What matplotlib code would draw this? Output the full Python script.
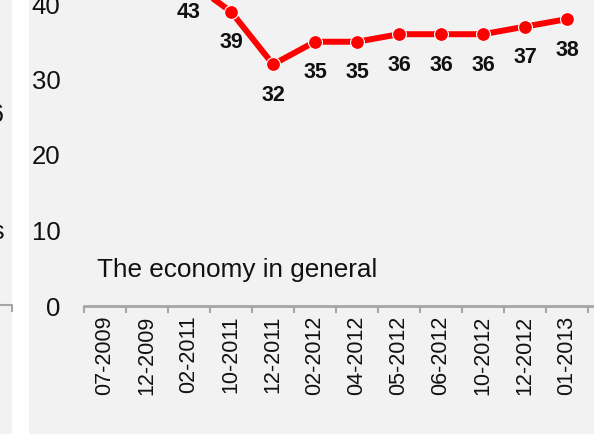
import matplotlib
matplotlib.use("Agg")
import matplotlib.pyplot as plt
from matplotlib.patches import Rectangle
from matplotlib.lines import Line2D

plt.rcParams['font.family'] = ['Liberation Sans', 'DejaVu Sans']

# data (first two points sit above the visible crop)
periods = ['07-2009', '12-2009', '02-2011', '10-2011', '12-2011', '02-2012',
           '04-2012', '05-2012', '06-2012', '10-2012', '12-2012', '01-2013']
values = [48, 47, 43, 39, 32, 35, 35, 36, 36, 36, 37, 38]
panel_title = 'The economy in general'

W, H = 594, 434
fig = plt.figure(figsize=(W / 100, H / 100), dpi=100)
fig.patch.set_facecolor('white')

# panel backgrounds (neighbouring panel on the far left, main panel)
bg = '#f2f2f2'
fig.patches.append(Rectangle((0, 0), 12 / W, 1, transform=fig.transFigure,
                             facecolor=bg, edgecolor='none', zorder=-2))
fig.patches.append(Rectangle((29 / W, 0), 1 - 29 / W, 1, transform=fig.transFigure,
                             facecolor=bg, edgecolor='none', zorder=-2))
# bits of the neighbouring panel
fig.lines.append(Line2D([0, 12 / W, 12 / W], [1 - 305 / H, 1 - 305 / H, 1 - 311 / H],
                        transform=fig.transFigure, color='#a6a6a6', lw=1.5))
fig.text(4 / W, 1 - 115 / H, '6', ha='right', va='center', fontsize=18, color='#111111')
fig.text(4 / W, 1 - 232 / H, 's', ha='right', va='center', fontsize=18, color='#111111')

# main axes: 0 at y=306px, 7.55 px per unit, x from 84px, 42px per category
ymax = 50
px_per_unit = 7.55
ax_h = ymax * px_per_unit / H
ax = fig.add_axes([84 / W, (H - 306) / H, (W - 84) / W, ax_h])
ax.set_facecolor('none')

x = list(range(len(periods)))
ax.plot(x, values, color='#ff0000', lw=4.3, marker='o', ms=10,
        mfc='#ff0000', mec='white', mew=0.8, zorder=3, solid_capstyle='round')

for xi, v in zip(x, values):
    ax.annotate(str(v), (xi, v), xytext=(0, -22.5), textcoords='offset points',
                ha='center', va='center', fontsize=15.5, fontweight='bold',
                color='#111111', annotation_clip=False)

ax.set_xlim(-0.5, (W - 84) / 42 - 0.5)
ax.set_ylim(0, ymax)

ax.set_yticks([0, 10, 20, 30, 40])
ax.tick_params(axis='y', length=0, pad=17, labelsize=18.5, labelcolor='#111111')

ax.set_xticks([i - 0.5 for i in range(len(periods) + 1)])
ax.set_xticklabels([])
ax.tick_params(axis='x', which='major', length=5, width=1.5, color='#a6a6a6', direction='out')
ax.set_xticks(x, minor=True)
ax.set_xticklabels(periods, minor=True, rotation=90, fontsize=15.5, color='#111111')
ax.tick_params(axis='x', which='minor', length=0, pad=7)

for s in ['top', 'right', 'left']:
    ax.spines[s].set_visible(False)
ax.spines['bottom'].set_color('#a6a6a6')
ax.spines['bottom'].set_linewidth(2)

ax.text(-0.5 + 13 / 42, 29 / px_per_unit, panel_title, ha='left', va='baseline',
        fontsize=18.8, color='#111111')

fig.savefig('out.png', dpi=100, facecolor=fig.get_facecolor())
